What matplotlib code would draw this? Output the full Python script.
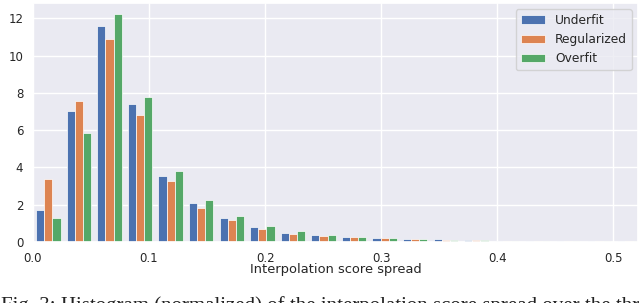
import numpy as np
import matplotlib.pyplot as plt
import seaborn as sns

# normalized histogram values (20 bins)
bin_edges = np.linspace(0.0, 0.527, 21)
labels = ['Underfit', 'Regularized', 'Overfit']
underfit = [1.72, 7.03, 11.58, 7.42, 3.57, 2.07, 1.27, 0.79, 0.48, 0.36,
            0.27, 0.23, 0.16, 0.14, 0.12, 0.07, 0.05, 0.04, 0.04, 0.03]
regularized = [3.38, 7.55, 10.92, 6.80, 3.27, 1.85, 1.16, 0.69, 0.43, 0.30,
               0.27, 0.19, 0.15, 0.13, 0.11, 0.07, 0.05, 0.04, 0.03, 0.03]
overfit = [1.29, 5.83, 12.22, 7.78, 3.82, 2.27, 1.40, 0.88, 0.59, 0.39,
           0.27, 0.22, 0.15, 0.13, 0.11, 0.07, 0.05, 0.04, 0.03, 0.03]
caption = "Fig. 3: Histogram (normalized) of the interpolation score spread over the three models"

sns.set_theme(style='darkgrid')
plt.rcParams['font.family'] = ['DejaVu Sans']

fig, ax = plt.subplots(figsize=(6.4, 3.03), dpi=100)
fig.subplots_adjust(left=33/640, right=638/640, top=1-3/303, bottom=1-242/303)

centers = (bin_edges[:-1] + bin_edges[1:]) / 2
ax.hist([centers, centers, centers], bins=bin_edges,
        weights=[underfit, regularized, overfit], label=labels,
        color=['#4C72B0', '#DD8452', '#55A868'], edgecolor='white', linewidth=0.5)

ax.set_xlim(0, 0.5213)
ax.set_xticks([0.0, 0.1, 0.2, 0.3, 0.4, 0.5])
ax.set_yticks([0, 2, 4, 6, 8, 10, 12])
ax.tick_params(labelsize=8.5, pad=1)
ax.set_xlabel('Interpolation score spread', fontsize=9.4, labelpad=-1)
ax.legend(loc='upper right', fontsize=8.8)

# caption of the page, mostly below the crop as in the reference
fig.text(0.002, 0.022, caption, fontsize=15, family='Liberation Serif',
         va='top', ha='left', color='#222222')

fig.savefig('out.png')
